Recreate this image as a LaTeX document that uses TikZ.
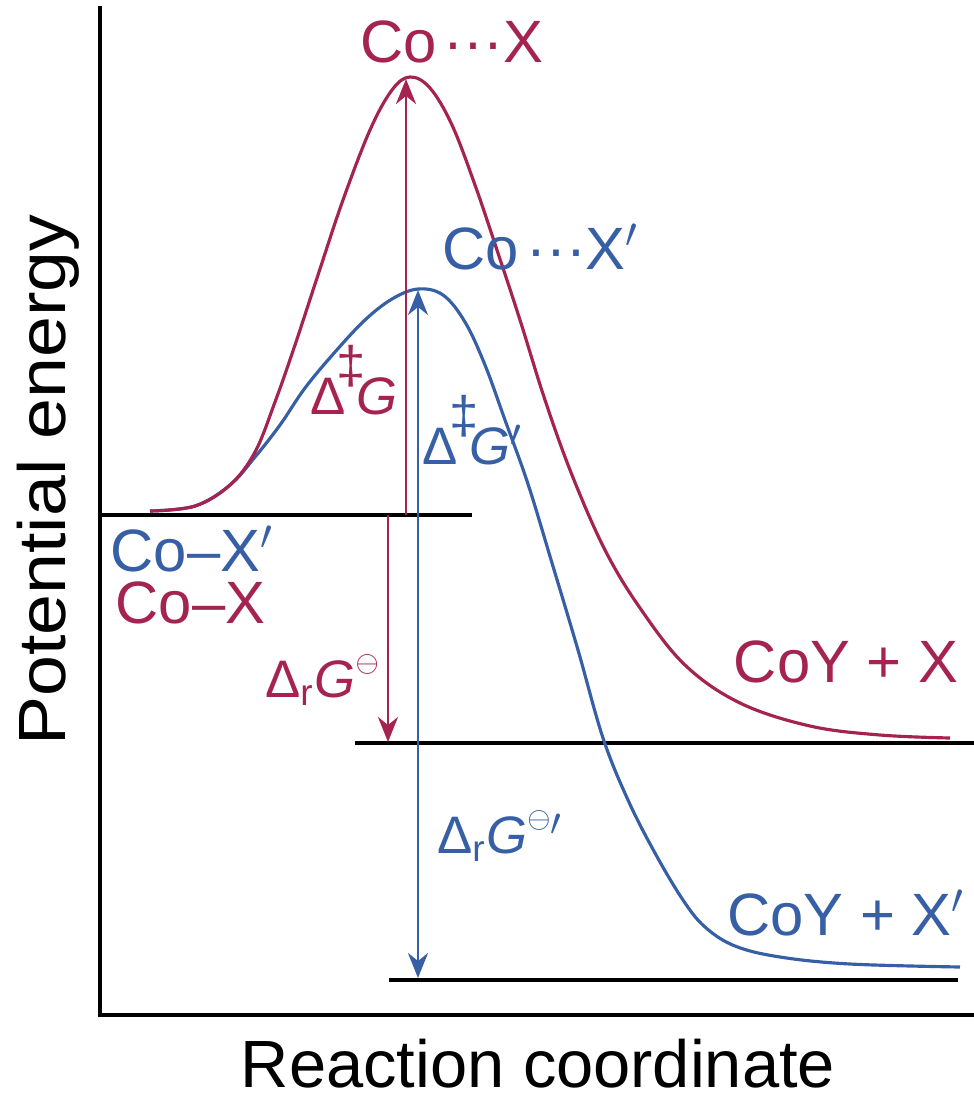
\documentclass[tikz,border=0pt]{standalone}
\usepackage{fontspec}
\setmainfont{Liberation Sans}
\usetikzlibrary{arrows.meta}
\definecolor{cored}{RGB}{165,35,80}
\definecolor{coblue}{RGB}{55,95,165}

\begin{document}
\begin{tikzpicture}[
    x=0.01cm, y=-0.01cm,
    level/.style={line width=0.9pt},
    curve/.style={line width=0.9pt, smooth, tension=0.6},
    arrow/.style={-{Stealth[length=2.5mm, width=2mm, inset=0.8mm]}, line width=0.8pt},
    species/.style={font=\fontsize{17}{20}\selectfont, inner sep=0pt},
    delta/.style={font=\fontsize{15}{18}\selectfont, inner sep=0pt},
    axislabel/.style={font=\fontsize{19}{22}\selectfont, inner sep=0pt}
]
    \useasboundingbox (0,0) rectangle (974,1096);

    % Axes
    \coordinate (ytop) at (100,6);
    \coordinate (origin) at (100,1015);
    \coordinate (xend) at (974,1015);
    \draw[level] (ytop) -- (origin) -- (xend);

    % Energy levels
    \coordinate (start_l) at (100,515);
    \coordinate (start_r) at (472,515);
    \coordinate (prod_l) at (355,743);
    \coordinate (prod_r) at (974,743);
    \coordinate (prodp_l) at (389,980);
    \coordinate (prodp_r) at (958,980);
    \draw[level] (start_l) -- (start_r);
    \draw[level] (prod_l) -- (prod_r);
    \draw[level, line width=1.3pt] (prodp_l) -- (prodp_r);

    % Profiles
    \draw[curve, coblue] plot coordinates {(150,511) (195,506) (230,485) (255,457)
        (280,425) (305,388) (335,352) (365,320) (392,299) (418,289) (443,295)
        (465,322) (485,365) (505,420) (528,484) (552,563) (578,650) (603,738)
        (628,800) (655,853) (683,900) (705,927) (735,946) (780,957) (850,964)
        (960,967)};
    \draw[curve, cored] plot coordinates {(150,511) (195,506) (230,485) (255,452)
        (275,402) (295,345) (318,275) (343,200) (370,130) (392,90) (410,77)
        (430,88) (452,125) (475,185) (497,250) (520,320) (545,400) (572,475)
        (605,550) (640,608) (685,665) (740,703) (810,726) (880,735) (950,738)};

    % Energy differences
    \coordinate (redbase) at (406,515);
    \coordinate (redpeak) at (406,79);
    \coordinate (bluebase) at (418,515);
    \coordinate (bluepeak) at (418,290);
    \coordinate (redbase2) at (388,515);
    \coordinate (redprod) at (388,742);
    \coordinate (blueprod) at (418,978);
    \draw[arrow, cored] (redbase) -- (redpeak);
    \draw[arrow, coblue] (bluebase) -- (bluepeak);
    \draw[arrow, cored] (redbase2) -- (redprod);
    \draw[arrow, coblue] (bluebase) -- (blueprod);

    % Labels
    \node[species, cored] (ts_red) at (452,42) {Co\hspace{0.12em}···X};
    \node[species, coblue] (ts_blue) at (541,247) {Co\hspace{0.12em}···X$'$};
    \node[delta, cored] (dg_red) at (354,380)
        {Δ\kern-0.17em\raisebox{0.6em}{\textdaggerdbl}\kern-0.17em\textit{G}};
    \node[delta, coblue] (dg_blue) at (473,430)
        {Δ\kern-0.17em\raisebox{0.6em}{\textdaggerdbl}\kern-0.17em\textit{G}$'$};
    \node[species, coblue, anchor=west] (rx_blue) at (110,549) {Co–X$'$};
    \node[species, cored, anchor=west] (rx_red) at (115,603) {Co–X};
    \node[delta, cored] (drg_red) at (322,680)
        {Δ\textsubscript{r}\textit{G}\raisebox{0.5em}{\fontsize{8}{8}\selectfont$\ominus$}};
    \node[delta, coblue] (drg_blue) at (500,836)
        {Δ\textsubscript{r}\textit{G}\raisebox{0.5em}{\fontsize{8}{8}\selectfont$\ominus$}$'$};
    \node[species, cored] (coy_red) at (846,662) {CoY + X};
    \node[species, coblue] (coy_blue) at (846,913) {CoY + X$'$};

    % Axis titles
    \node[axislabel, rotate=90] (ylabel) at (48,480) {\scalebox{1.1}[1]{Potential energy}};
    \node[axislabel, anchor=base] (xlabel) at (538,1087) {Reaction coordinate};

\end{tikzpicture}
\end{document}
